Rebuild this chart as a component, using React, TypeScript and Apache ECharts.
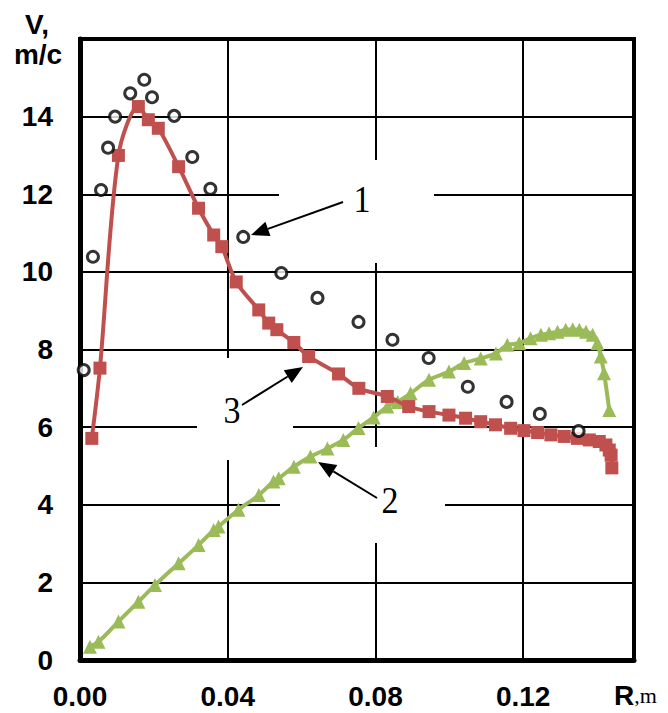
import React, { useEffect, useRef } from "react";
import * as echarts from "echarts";

// Series 1: experiment (open circles)
const circleR = [0.001, 0.0035, 0.0057, 0.0076, 0.0095, 0.0136, 0.0174, 0.0195, 0.0255, 0.0304, 0.0353, 0.0442, 0.0545, 0.0643, 0.0754, 0.0846, 0.0944, 0.105, 0.1155, 0.1245, 0.135];
const circleV = [7.47, 10.39, 12.11, 13.2, 14.0, 14.6, 14.95, 14.5, 14.02, 12.96, 12.14, 10.9, 9.97, 9.33, 8.71, 8.25, 7.78, 7.04, 6.65, 6.34, 5.9];

// Series 3: red squares
const redR = [0.0032, 0.0054, 0.0104, 0.0158, 0.0185, 0.0212, 0.0267, 0.0321, 0.0362, 0.0384, 0.0423, 0.0484, 0.0511, 0.0533, 0.0579, 0.0619, 0.07, 0.0755, 0.0832, 0.089, 0.0945, 0.0999, 0.1044, 0.1085, 0.1125, 0.1166, 0.1202, 0.1239, 0.1275, 0.1311, 0.1347, 0.1379, 0.1406, 0.1424, 0.1433, 0.1438, 0.144];
const redV = [5.71, 7.52, 13.0, 14.26, 13.92, 13.7, 12.71, 11.64, 10.95, 10.65, 9.74, 9.02, 8.68, 8.51, 8.18, 7.82, 7.37, 7.0, 6.79, 6.53, 6.4, 6.31, 6.23, 6.14, 6.06, 5.97, 5.91, 5.86, 5.8, 5.76, 5.71, 5.67, 5.63, 5.54, 5.41, 5.28, 4.95];

// Series 2: green triangles
const greenR = [0.0027, 0.005, 0.0104, 0.0158, 0.0203, 0.0267, 0.0321, 0.0362, 0.0375, 0.0429, 0.0484, 0.0524, 0.0538, 0.0579, 0.0624, 0.067, 0.0713, 0.0754, 0.0795, 0.0832, 0.086, 0.0895, 0.0945, 0.0999, 0.104, 0.1085, 0.1126, 0.1157, 0.1189, 0.122, 0.1248, 0.127, 0.1293, 0.1315, 0.1334, 0.1352, 0.137, 0.1388, 0.1401, 0.141, 0.1419, 0.1433];
const greenV = [0.34, 0.47, 0.99, 1.5, 1.93, 2.49, 2.96, 3.35, 3.44, 3.87, 4.25, 4.6, 4.68, 4.98, 5.24, 5.45, 5.67, 5.98, 6.25, 6.53, 6.65, 6.87, 7.22, 7.43, 7.65, 7.77, 7.9, 8.12, 8.16, 8.29, 8.38, 8.42, 8.46, 8.51, 8.52, 8.51, 8.46, 8.38, 8.16, 7.82, 7.39, 6.44];

const xTickLabels = ["0.00", "0.04", "0.08", "0.12"];
const curveLabels = ["1", "2", "3"];

const zip = (a: number[], b: number[]) => a.map((v, i) => [v, b[i]]);

function arrow(x1: number, y1: number, x2: number, y2: number) {
  const len = 18;
  const w = 7.5;
  const a = Math.atan2(y2 - y1, x2 - x1);
  const bx = x2 - len * Math.cos(a);
  const by = y2 - len * Math.sin(a);
  return [
    {
      type: "line",
      z: 50,
      shape: { x1, y1, x2: bx, y2: by },
      style: { stroke: "#000", lineWidth: 2 },
    },
    {
      type: "polygon",
      z: 50,
      shape: {
        points: [
          [x2, y2],
          [bx + w * Math.sin(a), by - w * Math.cos(a)],
          [bx - w * Math.sin(a), by + w * Math.cos(a)],
        ],
      },
      style: { fill: "#000" },
    },
  ];
}

export default function App() {
  const ref = useRef<HTMLDivElement>(null);
  useEffect(() => {
    if (!ref.current) return;
    const chart = echarts.init(ref.current, undefined, { renderer: "svg" });
    const sans = "'Liberation Sans', Arial, sans-serif";
    const serif = "'Liberation Serif', 'Times New Roman', serif";
    const box = (x: number, y: number, w: number, h: number) => ({
      type: "rect",
      z: 1,
      shape: { x, y, width: w, height: h },
      style: { fill: "#fff" },
    });
    const label = (t: string, x: number, y: number) => ({
      type: "text",
      z: 60,
      x,
      y,
      scaleY: 1.12,
      style: {
        text: t,
        font: `34px ${serif}`,
        fill: "#000",
        align: "center",
        verticalAlign: "middle",
      },
    });
    chart.setOption({
      animation: false,
      backgroundColor: "#fff",
      grid: {
        left: 80,
        right: 34,
        top: 39,
        bottom: 53,
        show: true,
        borderColor: "#000",
        borderWidth: 4,
        z: 0,
      },
      xAxis: {
        type: "value",
        min: 0,
        max: 0.15,
        interval: 0.04,
        axisLine: { show: true, lineStyle: { color: "#000", width: 5 } },
        axisTick: { show: false },
        axisLabel: {
          showMaxLabel: false,
          margin: 22,
          color: "#000",
          fontSize: 28,
          fontWeight: "bold",
          fontFamily: sans,
          formatter: (v: number) => xTickLabels[Math.round(v / 0.04)] ?? "",
        },
        splitLine: { show: true, lineStyle: { color: "#000", width: 2 } },
      },
      yAxis: {
        type: "value",
        min: 0,
        max: 16,
        interval: 2,
        axisLine: { show: true, lineStyle: { color: "#000", width: 5 } },
        axisTick: { show: false },
        axisLabel: {
          showMaxLabel: false,
          margin: 27,
          color: "#000",
          fontSize: 28,
          fontWeight: "bold",
          fontFamily: sans,
        },
        splitLine: { show: true, lineStyle: { color: "#000", width: 2 } },
      },
      graphic: [
        box(279, 160, 155, 103),
        box(280, 447, 165, 96),
        box(197, 358, 96, 102),
        ...arrow(343, 202, 251, 235),
        ...arrow(377, 498, 318, 462),
        ...arrow(242, 405, 303, 367),
        label(curveLabels[0], 362, 199),
        label(curveLabels[1], 390, 500),
        label(curveLabels[2], 232, 410),
        {
          type: "text",
          z: 60,
          x: 37,
          y: 24,
          style: { text: "V,", font: `bold 28px ${sans}`, fill: "#000", align: "center", verticalAlign: "middle" },
        },
        {
          type: "text",
          z: 60,
          x: 38,
          y: 54,
          style: { text: "m/c", font: `bold 28px ${sans}`, fill: "#000", align: "center", verticalAlign: "middle" },
        },
        {
          type: "text",
          z: 60,
          x: 614,
          y: 695,
          style: {
            text: "{a|R}{b|,m}",
            verticalAlign: "middle",
            rich: {
              a: { fontFamily: sans, fontWeight: "bold", fontSize: 28, fill: "#000", color: "#000" },
              b: { fontFamily: serif, fontSize: 22, fill: "#000", color: "#000" },
            },
          },
        },
      ],
      series: [
        {
          name: "2",
          type: "line",
          z: 3,
          data: zip(greenR, greenV),
          smooth: 0.3,
          symbol: "triangle",
          symbolSize: 14,
          itemStyle: { color: "#9BBB59" },
          lineStyle: { color: "#9BBB59", width: 4 },
        },
        {
          name: "3",
          type: "line",
          z: 4,
          data: zip(redR, redV),
          smooth: 0.3,
          symbol: "rect",
          symbolSize: 13,
          itemStyle: { color: "#C0504D" },
          lineStyle: { color: "#C0504D", width: 4 },
        },
        {
          name: "1",
          type: "scatter",
          z: 5,
          data: zip(circleR, circleV),
          symbol: "circle",
          symbolSize: 11,
          itemStyle: { color: "#fff", borderColor: "#000", borderWidth: 3 },
        },
      ],
    });
    return () => chart.dispose();
  }, []);
  return (
    <div
      ref={ref}
      style={{ position: "fixed", left: 0, top: 0, width: 668, height: 713 }}
    />
  );
}
